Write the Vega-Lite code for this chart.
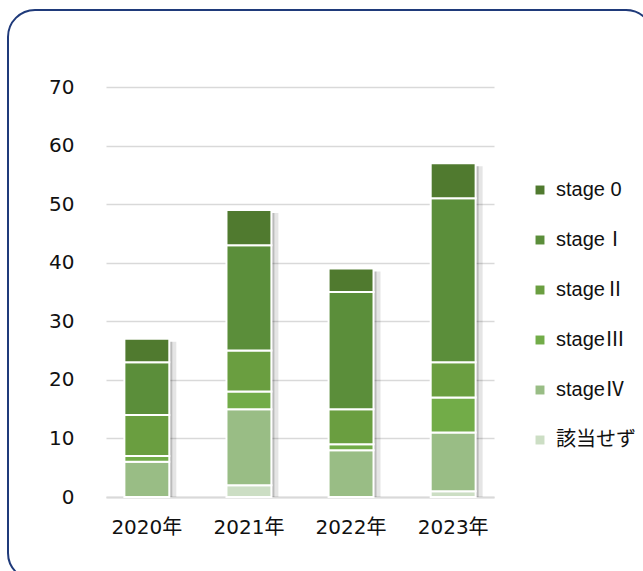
{
  "$schema": "https://vega.github.io/schema/vega-lite/v6.json",
  "width": 645,
  "height": 570,
  "autosize": {"type": "none"},
  "padding": {"left": 8, "top": 10, "right": 0, "bottom": 0},
  "background": "white",
  "config": {
    "view": {"stroke": "#1F3A7A", "strokeWidth": 2, "cornerRadius": 27, "fill": "white"},
    "font": "DejaVu Sans, Noto Sans CJK JP"
  },
  "data": {
    "values": [
      {"year": "2020年", "stage": "stageⅣ", "count": 6},
      {"year": "2020年", "stage": "stageⅢ", "count": 1},
      {"year": "2020年", "stage": "stageⅡ", "count": 7},
      {"year": "2020年", "stage": "stageⅠ", "count": 9},
      {"year": "2020年", "stage": "stage 0", "count": 4},
      {"year": "2021年", "stage": "該当せず", "count": 2},
      {"year": "2021年", "stage": "stageⅣ", "count": 13},
      {"year": "2021年", "stage": "stageⅢ", "count": 3},
      {"year": "2021年", "stage": "stageⅡ", "count": 7},
      {"year": "2021年", "stage": "stageⅠ", "count": 18},
      {"year": "2021年", "stage": "stage 0", "count": 6},
      {"year": "2022年", "stage": "stageⅣ", "count": 8},
      {"year": "2022年", "stage": "stageⅢ", "count": 1},
      {"year": "2022年", "stage": "stageⅡ", "count": 6},
      {"year": "2022年", "stage": "stageⅠ", "count": 20},
      {"year": "2022年", "stage": "stage 0", "count": 4},
      {"year": "2023年", "stage": "該当せず", "count": 1},
      {"year": "2023年", "stage": "stageⅣ", "count": 10},
      {"year": "2023年", "stage": "stageⅢ", "count": 6},
      {"year": "2023年", "stage": "stageⅡ", "count": 6},
      {"year": "2023年", "stage": "stageⅠ", "count": 28},
      {"year": "2023年", "stage": "stage 0", "count": 6}
    ]
  },
  "encoding": {
    "x": {
      "field": "year",
      "type": "nominal",
      "scale": {"range": [98, 486], "paddingInner": 0.56, "paddingOuter": 0.18},
      "axis": {
        "orient": "bottom",
        "offset": -83,
        "title": null,
        "labelAngle": 0,
        "domain": true,
        "domainColor": "#D9D9D9",
        "domainWidth": 2,
        "ticks": false,
        "labelFontSize": 20,
        "labelColor": "#111111",
        "labelPadding": 20
      }
    }
  },
  "layer": [
    {
      "mark": {"type": "bar", "color": "#000000", "opacity": 0.1, "xOffset": 7, "yOffset": 3},
      "encoding": {
        "y": {
          "aggregate": "sum", "field": "count", "type": "quantitative",
          "scale": {"domain": [0, 70], "range": [487, 77], "nice": false},
          "axis": {
            "orient": "left", "offset": -68, "title": null,
            "values": [0, 10, 20, 30, 40, 50, 60, 70],
            "grid": true, "gridColor": "#D9D9D9", "gridWidth": 1.5,
            "domain": false, "ticks": false,
            "labelFontSize": 20, "labelColor": "#111111", "labelPadding": 2
          }
        }
      }
    },
    {
      "mark": {"type": "bar", "color": "#000000", "opacity": 0.18, "xOffset": 3, "yOffset": 3},
      "encoding": {
        "y": {
          "aggregate": "sum", "field": "count", "type": "quantitative",
          "scale": {"domain": [0, 70], "range": [487, 77], "nice": false},
          "axis": {
            "orient": "left", "offset": -68, "title": null,
            "values": [0, 10, 20, 30, 40, 50, 60, 70],
            "grid": true, "gridColor": "#D9D9D9", "gridWidth": 1.5,
            "domain": false, "ticks": false,
            "labelFontSize": 20, "labelColor": "#111111", "labelPadding": 2
          }
        }
      }
    },
    {
      "mark": {"type": "bar", "stroke": "white", "strokeWidth": 2},
      "encoding": {
        "y": {
          "field": "count",
          "type": "quantitative",
          "stack": "zero",
          "scale": {"domain": [0, 70], "range": [487, 77], "nice": false},
          "axis": {
            "orient": "left", "offset": -68, "title": null,
            "values": [0, 10, 20, 30, 40, 50, 60, 70],
            "grid": true, "gridColor": "#D9D9D9", "gridWidth": 1.5,
            "domain": false, "ticks": false,
            "labelFontSize": 20, "labelColor": "#111111", "labelPadding": 2
          }
        },
        "color": {
          "field": "stage",
          "type": "nominal",
          "scale": {
            "domain": ["該当せず", "stageⅣ", "stageⅢ", "stageⅡ", "stageⅠ", "stage 0"],
            "range": ["#CCDEC4", "#99BD85", "#72AC48", "#6A9E40", "#5B8E3A", "#507A2F"]
          },
          "legend": {
            "orient": "none",
            "legendX": 522,
            "legendY": 170,
            "title": null,
            "values": ["stage 0", "stageⅠ", "stageⅡ", "stageⅢ", "stageⅣ", "該当せず"],
            "symbolType": "square",
            "symbolSize": 80,
            "symbolStrokeWidth": 0,
            "labelFont": "Liberation Sans, Noto Sans CJK JP",
            "labelFontSize": 20,
            "labelColor": "#111111",
            "labelOffset": 6,
            "rowPadding": 30
          }
        }
      }
    }
  ]
}
